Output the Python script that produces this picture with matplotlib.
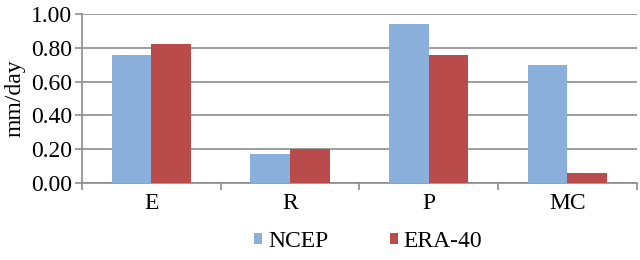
import matplotlib
matplotlib.use("Agg")
import matplotlib.pyplot as plt
import numpy as np

plt.rcParams['font.family'] = ['Liberation Serif', 'DejaVu Serif']

# Data
categories = ["E", "R", "P", "MC"]
ncep = [0.76, 0.17, 0.94, 0.70]
era40 = [0.82, 0.20, 0.76, 0.06]

fig = plt.figure(figsize=(6.4, 2.6), dpi=100)
ax = fig.add_axes([0.128, 0.296, 0.867, 0.65])

x = np.arange(len(categories))
w = 0.285
ax.bar(x - w / 2, ncep, w, color="#8aafda", label="NCEP", zorder=3)
ax.bar(x + w / 2, era40, w, color="#b94c4b", label="ERA-40", zorder=3)

ax.set_xlim(-0.5, len(categories) - 0.5)
ax.set_ylim(0, 1.0)
ax.set_yticks(np.arange(0, 1.01, 0.2))
ax.set_yticklabels(["%.2f" % v for v in np.arange(0, 1.01, 0.2)], fontsize=17)
ax.yaxis.grid(True, color="#8c8c8c", linewidth=1.2, zorder=0)

# category boundary ticks
ax.set_xticks(np.arange(-0.5, len(categories), 1.0))
ax.set_xticklabels([])
ax.set_xticks(x, minor=True)
ax.set_xticklabels(categories, minor=True, fontsize=17)
ax.tick_params(axis="x", which="minor", length=0, pad=7)
ax.tick_params(axis="x", which="major", length=5, color="#8c8c8c", width=1.2)
ax.tick_params(axis="y", length=5, color="#8c8c8c", width=1.2, pad=2)

for s in ["top", "right"]:
    ax.spines[s].set_visible(False)
ax.spines["left"].set_color("#8c8c8c")
ax.spines["bottom"].set_color("#8c8c8c")
ax.spines["left"].set_linewidth(1.2)
ax.spines["bottom"].set_linewidth(1.2)

ax.set_ylabel("mm/day", fontsize=17, labelpad=4)

fig.legend(loc="lower center", bbox_to_anchor=(0.575, -0.05), ncol=2, frameon=False,
           fontsize=17, handlelength=0.35, handleheight=0.35, handletextpad=0.25,
           columnspacing=2.6)

fig.savefig("out.png", dpi=100)
